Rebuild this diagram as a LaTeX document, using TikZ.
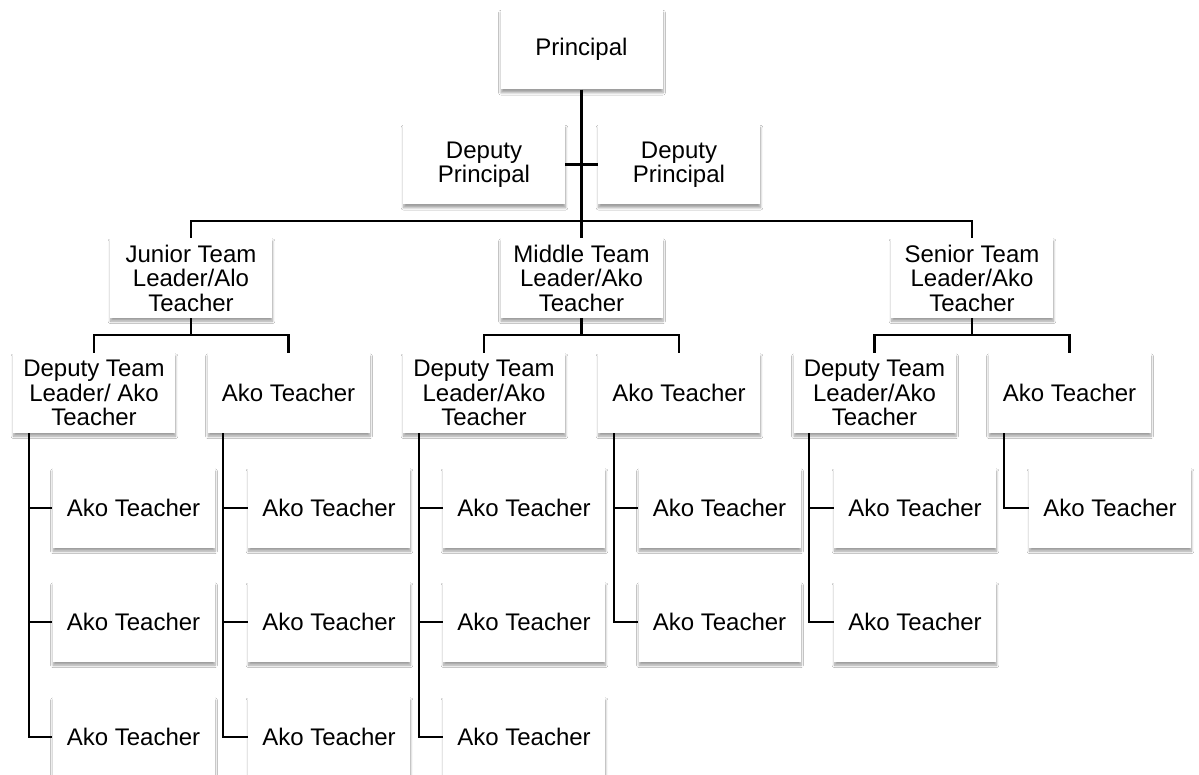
\documentclass[tikz,border=0pt]{standalone}
\usepackage{fontspec}
\setmainfont{Liberation Sans}
\usetikzlibrary{calc,shadows.blur}
\tikzset{
  box/.style={rectangle, fill=white, minimum width=162pt, minimum height=80pt, inner sep=0pt,
    align=center, font=\fontsize{24}{24.5}\selectfont,
    blur shadow={shadow xshift=0.5pt, shadow yshift=-3.2pt, shadow blur radius=2.4pt, shadow blur steps=6, shadow opacity=38}},
  conn/.style={draw=black, line width=2.2pt}
}
\begin{document}
\begin{tikzpicture}[x=1pt,y=-1pt]
\useasboundingbox (0,0) rectangle (1199,775);
\fill[white] (0,0) rectangle (1199,775);
\coordinate (bar) at (581.5,221);
% nodes
\node[box] (p) at (581.5,49.5) {Principal};
\node[box] (dp1) at (484,164.5) {Deputy\\Principal};
\node[box] (dp2) at (679,164.5) {Deputy\\Principal};
\node[box] (jt) at (191,278) {Junior Team\\Leader/Alo\\Teacher};
\node[box] (mt) at (581.5,278) {Middle Team\\Leader/Ako\\Teacher};
\node[box] (st) at (972,278) {Senior Team\\Leader/Ako\\Teacher};
\node[box] (jd) at (94,393) {Deputy Team\\Leader/ Ako\\Teacher};
\node[box] (ja) at (288.5,393) {Ako Teacher};
\node[box] (md) at (484,393) {Deputy Team\\Leader/Ako\\Teacher};
\node[box] (ma) at (679,393) {Ako Teacher};
\node[box] (sd) at (874.5,393) {Deputy Team\\Leader/Ako\\Teacher};
\node[box] (sa) at (1069.5,393) {Ako Teacher};
% level 4
\node[box] (jd1) at (133.5,508) {Ako Teacher};
\node[box] (jd2) at (133.5,622) {Ako Teacher};
\node[box] (jd3) at (133.5,737) {Ako Teacher};
\node[box] (ja1) at (329,508) {Ako Teacher};
\node[box] (ja2) at (329,622) {Ako Teacher};
\node[box] (ja3) at (329,737) {Ako Teacher};
\node[box] (md1) at (524,508) {Ako Teacher};
\node[box] (md2) at (524,622) {Ako Teacher};
\node[box] (md3) at (524,737) {Ako Teacher};
\node[box] (ma1) at (719.5,508) {Ako Teacher};
\node[box] (ma2) at (719.5,622) {Ako Teacher};
\node[box] (sd1) at (915,508) {Ako Teacher};
\node[box] (sd2) at (915,622) {Ako Teacher};
\node[box] (sa1) at (1110,508) {Ako Teacher};
% connectors
\draw[conn] (p.south) -- (mt.north);
\draw[conn] (dp1.east) -- (dp2.west);
\draw[conn] (jt.north) |- (bar) -| (st.north);
\coordinate (jbar) at ($(jt.south)+(0,17)$);
\coordinate (mbar) at ($(mt.south)+(0,17)$);
\coordinate (sbar) at ($(st.south)+(0,17)$);
\draw[conn] (jt.south) -- (jbar);
\draw[conn] (jd.north) |- (jbar) -| (ja.north);
\draw[conn] (mt.south) -- (mbar);
\draw[conn] (md.north) |- (mbar) -| (ma.north);
\draw[conn] (st.south) -- (sbar);
\draw[conn] (sd.north) |- (sbar) -| (sa.north);
\coordinate (jdv) at ($(jd.south west)+(16,0)$);
\coordinate (jav) at ($(ja.south west)+(16,0)$);
\coordinate (mdv) at ($(md.south west)+(16,0)$);
\coordinate (mav) at ($(ma.south west)+(16,0)$);
\coordinate (sdv) at ($(sd.south west)+(16,0)$);
\coordinate (sav) at ($(sa.south west)+(16,0)$);
\draw[conn] (jdv) |- (jd1.west); \draw[conn] (jdv) |- (jd2.west); \draw[conn] (jdv) |- (jd3.west);
\draw[conn] (jav) |- (ja1.west); \draw[conn] (jav) |- (ja2.west); \draw[conn] (jav) |- (ja3.west);
\draw[conn] (mdv) |- (md1.west); \draw[conn] (mdv) |- (md2.west); \draw[conn] (mdv) |- (md3.west);
\draw[conn] (mav) |- (ma1.west); \draw[conn] (mav) |- (ma2.west);
\draw[conn] (sdv) |- (sd1.west); \draw[conn] (sdv) |- (sd2.west);
\draw[conn] (sav) |- (sa1.west);
\end{tikzpicture}
\end{document}
